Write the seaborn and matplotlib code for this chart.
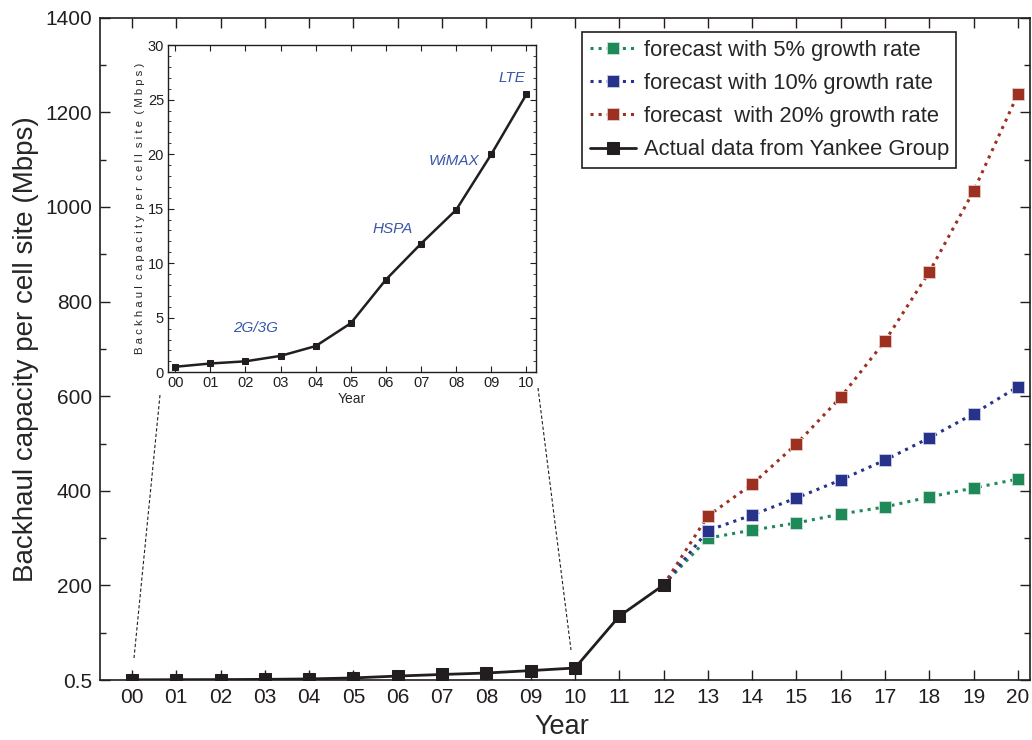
import numpy as np
import pandas as pd
import seaborn as sns
import matplotlib.pyplot as plt
from matplotlib.lines import Line2D
from matplotlib.ticker import MultipleLocator

# data
years = list(range(0, 21))
year_labels = ['%02d' % y for y in years]

actual_years = list(range(0, 13))
actual = [0.5, 0.8, 1.0, 1.5, 2.4, 4.5, 8.5, 11.8, 14.9, 20.0, 25.5, 135, 201]

fc_years = list(range(12, 21))
fc_5 = [201, 300, 317, 332, 351, 366, 387, 406, 425]
fc_10 = [201, 316, 349, 385, 423, 465, 512, 563, 620]
fc_20 = [201, 347, 414, 499, 598, 717, 863, 1034, 1239]

inset_years = list(range(0, 11))
inset_vals = actual[:11]
tech_labels = ['2G/3G', 'HSPA', 'WiMAX', 'LTE']
tech_x = [2.3, 6.2, 7.95, 9.6]
tech_y = [4.1, 13.1, 19.4, 27.0]

sns.set_theme(style='ticks')
plt.rcParams['font.family'] = ['Liberation Sans', 'DejaVu Sans']

fig = plt.figure(figsize=(10.32, 7.4), dpi=100)
ax = fig.add_axes([0.097, 0.081, 0.901, 0.895])

green = '#1e8a5a'
blue = '#27338a'
red = '#9c3122'
black = '#221e1f'

sns.lineplot(x=fc_years, y=fc_5, ax=ax, color=green, linestyle=':', lw=2.2,
             marker='s', markersize=9, markeredgecolor='#cfe3d8', markeredgewidth=0.6,
             label='forecast with 5% growth rate')
sns.lineplot(x=fc_years, y=fc_10, ax=ax, color=blue, linestyle=':', lw=2.2,
             marker='s', markersize=9, markeredgecolor='#c9cde6', markeredgewidth=0.6,
             label='forecast with 10% growth rate')
sns.lineplot(x=fc_years, y=fc_20, ax=ax, color=red, linestyle=':', lw=2.2,
             marker='s', markersize=9, markeredgecolor='#e6cbc6', markeredgewidth=0.6,
             label='forecast  with 20% growth rate')
sns.lineplot(x=actual_years, y=actual, ax=ax, color=black, lw=2,
             marker='s', markersize=9, markeredgecolor=black,
             label='Actual data from Yankee Group')

ax.set_xlim(-0.72, 20.27)
ax.set_ylim(0, 1400)
ax.set_xticks(years)
ax.set_xticklabels(year_labels)
ax.set_yticks([0, 200, 400, 600, 800, 1000, 1200, 1400])
ax.set_yticklabels(['0.5', '200', '400', '600', '800', '1000', '1200', '1400'])
ax.yaxis.set_minor_locator(MultipleLocator(100))
ax.tick_params(axis='both', which='both', direction='in', top=True, right=True,
               labelsize=15, colors=black, pad=6)
ax.tick_params(axis='both', which='major', length=7, width=1)
ax.tick_params(axis='y', which='minor', length=4, width=1)
for s in ax.spines.values():
    s.set_color(black)
    s.set_linewidth(1.2)
ax.set_xlabel('Year', fontsize=19.5)
ax.set_ylabel('Backhaul capacity per cell site (Mbps)', fontsize=20, labelpad=4)
ax.xaxis.set_label_coords(0.497, -0.052)

leg = ax.legend(loc='upper right', bbox_to_anchor=(0.921, 0.978), fontsize=15.8,
                frameon=True, fancybox=False, edgecolor=black, framealpha=1,
                handlelength=2.1, handletextpad=0.35, borderpad=0.35, labelspacing=0.55,
                borderaxespad=0)
leg.get_frame().set_linewidth(1.2)

# inset with the early years
ins = fig.add_axes([0.163, 0.497, 0.356, 0.442])
sns.lineplot(x=inset_years, y=inset_vals, ax=ins, color=black, lw=1.8,
             marker='s', markersize=4.5, markeredgecolor=black)
ins.set_xlim(-0.2, 10.26)
ins.set_ylim(0, 30)
ins.set_xticks(inset_years)
ins.set_xticklabels(year_labels[:11])
ins.set_yticks([0, 5, 10, 15, 20, 25, 30])
ins.yaxis.set_minor_locator(MultipleLocator(1))
ins.tick_params(axis='both', which='both', direction='in', top=True, right=True,
                labelsize=10.5, colors=black, pad=3)
ins.tick_params(axis='both', which='major', length=4, width=0.8)
ins.tick_params(axis='y', which='minor', length=2, width=0.6)
for s in ins.spines.values():
    s.set_color(black)
    s.set_linewidth(1)
ins.set_xlabel('Year', fontsize=10, labelpad=1)
ins.set_ylabel('B a c k h a u l  c a p a c i t y  p e r  c e l l  s i t e  ( M b p s )',
               fontsize=8.2, labelpad=2)
for lab, tx, ty in zip(tech_labels, tech_x, tech_y):
    ins.text(tx, ty, lab, color='#3a56a8', fontsize=11, style='italic',
             ha='center', va='center')

# dashed zoom connectors
fig.add_artist(Line2D([160 / 1032, 134 / 1032], [1 - 395 / 740, 1 - 658 / 740],
                      transform=fig.transFigure, color=black, lw=0.8, ls=(0, (3, 2))))
fig.add_artist(Line2D([538 / 1032, 571 / 1032], [1 - 388 / 740, 1 - 650 / 740],
                      transform=fig.transFigure, color=black, lw=0.8, ls=(0, (3, 2))))

fig.savefig('out.png', dpi=100)
